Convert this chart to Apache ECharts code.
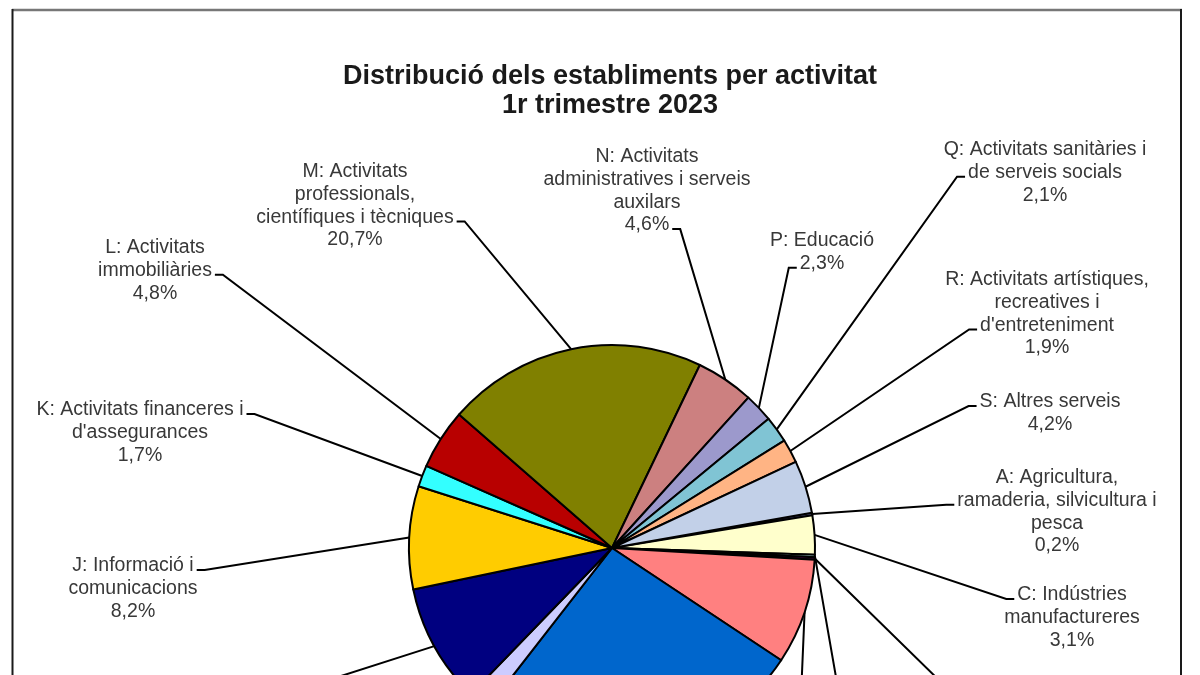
<!DOCTYPE html>
<html>
<head>
<meta charset="utf-8">
<script src="https://cdn.jsdelivr.net/npm/echarts@6/dist/echarts.min.js"></script>
<style>
html,body{margin:0;padding:0;background:#fff;overflow:hidden;}
#c{width:1200px;height:675px;}
</style>
</head>
<body>
<div id="c"></div>
<script>
// ---- data ----
const titleLines = ['Distribució dels establiments per activitat', '1r trimestre 2023'];
const categories = [
  'A: Agricultura,\nramaderia, silvicultura i\npesca',
  'C: Indústries\nmanufactureres',
  "D: Subministrament\nd'energia elèctrica, gas,\nvapor i aire condicionat",
  "E: Subministrament\nd'aigua, sanejament i\ngestió de residus",
  'F: Construcció',
  "G: Comerç a l'engròs i al\ndetall; reparació de\nvehicles de motor",
  'H: Transport i\nemmagatzematge',
  'I: Hostaleria',
  'J: Informació i\ncomunicacions',
  "K: Activitats financeres i\nd'assegurances",
  'L: Activitats\nimmobiliàries',
  'M: Activitats\nprofessionals,\ncientífiques i tècniques',
  'N: Activitats\nadministratives i serveis\nauxilars',
  'P: Educació',
  'Q: Activitats sanitàries i\nde serveis socials',
  "R: Activitats artístiques,\nrecreatives i\nd'entreteniment",
  'S: Altres serveis'
];
const shares = [0.2, 3.1, 0.2, 0.2, 8.4, 26.2, 1.7, 9.5, 8.2, 1.7, 4.8, 20.7, 4.6, 2.3, 2.1, 1.9, 4.2];

// ---- styles / layout (not data) ----
const colors = ['#9999FF','#FFFFCC','#CCFFFF','#660066','#FF8080','#0066CC','#CCCCFF','#000080',
  '#FFCC00','#33FFFF','#B80000','#808000','#CC8080','#9C99CC','#80C4D4','#FFB484','#C2D0E8'];
// label block: centre x, first row y, row carrying the leader stub, side of the stub
const labelCX   = [1057, 1072, 945, 1086, 873, 700, 380, 200, 133, 140, 155, 355, 647, 822, 1045, 1047, 1050];
const labelY0   = [478, 595, 744, 726, 736, 820, 780, 697, 566, 410, 248, 172, 157, 241, 150, 280, 402];
const stubRow   = [1, 0, 0, 0, 0, 0, 0, 0, 0, 0, 1, 2, 3, 1, 1, 2, 0];
const stubSide  = ['l','l','l','l','l','l','r','r','r','r','r','r','r','l','l','l','l'];

const FONT_SIZE = 19.5, LH = 22.7, FAMILY = '"Liberation Sans", Arial, sans-serif';
const fmt = v => v.toFixed(1).replace('.', ',') + '%';
const ctx = document.createElement('canvas').getContext('2d');
ctx.font = FONT_SIZE + 'px ' + FAMILY;

const chart = echarts.init(document.getElementById('c'), null, {renderer: 'canvas'});
chart.setOption({
  animation: false,
  backgroundColor: '#fff',
  title: {
    text: titleLines.join('\n'),
    left: 605, top: 57, textAlign: 'center',
    textStyle: {fontSize: 27, fontWeight: 'bold', lineHeight: 29, color: '#1a1a1a', fontFamily: FAMILY}
  },
  graphic: [
    {type: 'line', shape: {x1: 12, y1: 10, x2: 1182, y2: 10}, style: {stroke: '#777', lineWidth: 2.5}},
    {type: 'line', shape: {x1: 12.5, y1: 9, x2: 12.5, y2: 680}, style: {stroke: '#1a1a1a', lineWidth: 2}},
    {type: 'line', shape: {x1: 1181, y1: 9, x2: 1181, y2: 680}, style: {stroke: '#1a1a1a', lineWidth: 2}}
  ],
  series: [{
    type: 'pie',
    center: [612, 548],
    radius: 203,
    startAngle: 10,
    clockwise: true,
    avoidLabelOverlap: false,
    minAngle: 0,
    data: categories.map((c, i) => ({name: c, value: shares[i], itemStyle: {color: colors[i]}})),
    itemStyle: {borderColor: '#000', borderWidth: 2},
    label: {
      show: true,
      formatter: p => p.name + '\n' + fmt(p.value),
      fontSize: FONT_SIZE, lineHeight: LH, color: '#383838', fontFamily: FAMILY, align: 'center'
    },
    labelLine: {show: true, length: 10, length2: 10, lineStyle: {color: '#000', width: 2}},
    emphasis: {disabled: true},
    labelLayout: function (p) {
      const i = p.dataIndex;
      const rows = categories[i].split('\n').concat([fmt(shares[i])]);
      const n = rows.length;
      const cy = labelY0[i] + (n - 1) / 2 * LH;
      const r = stubRow[i];
      const w = ctx.measureText(rows[r]).width;
      const sy = labelY0[i] + r * LH + 4;
      let inner, outer;
      if (stubSide[i] === 'l') { inner = labelCX[i] - w / 2 - 3; outer = inner - 8; }
      else { inner = labelCX[i] + w / 2 + 3; outer = inner + 8; }
      const res = {x: labelCX[i], y: cy, align: 'center', verticalAlign: 'middle'};
      if (p.labelLinePoints && p.labelLinePoints.length) {
        res.labelLinePoints = [p.labelLinePoints[0], [outer, sy], [inner, sy]];
      }
      return res;
    }
  }]
});
</script>
</body>
</html>
